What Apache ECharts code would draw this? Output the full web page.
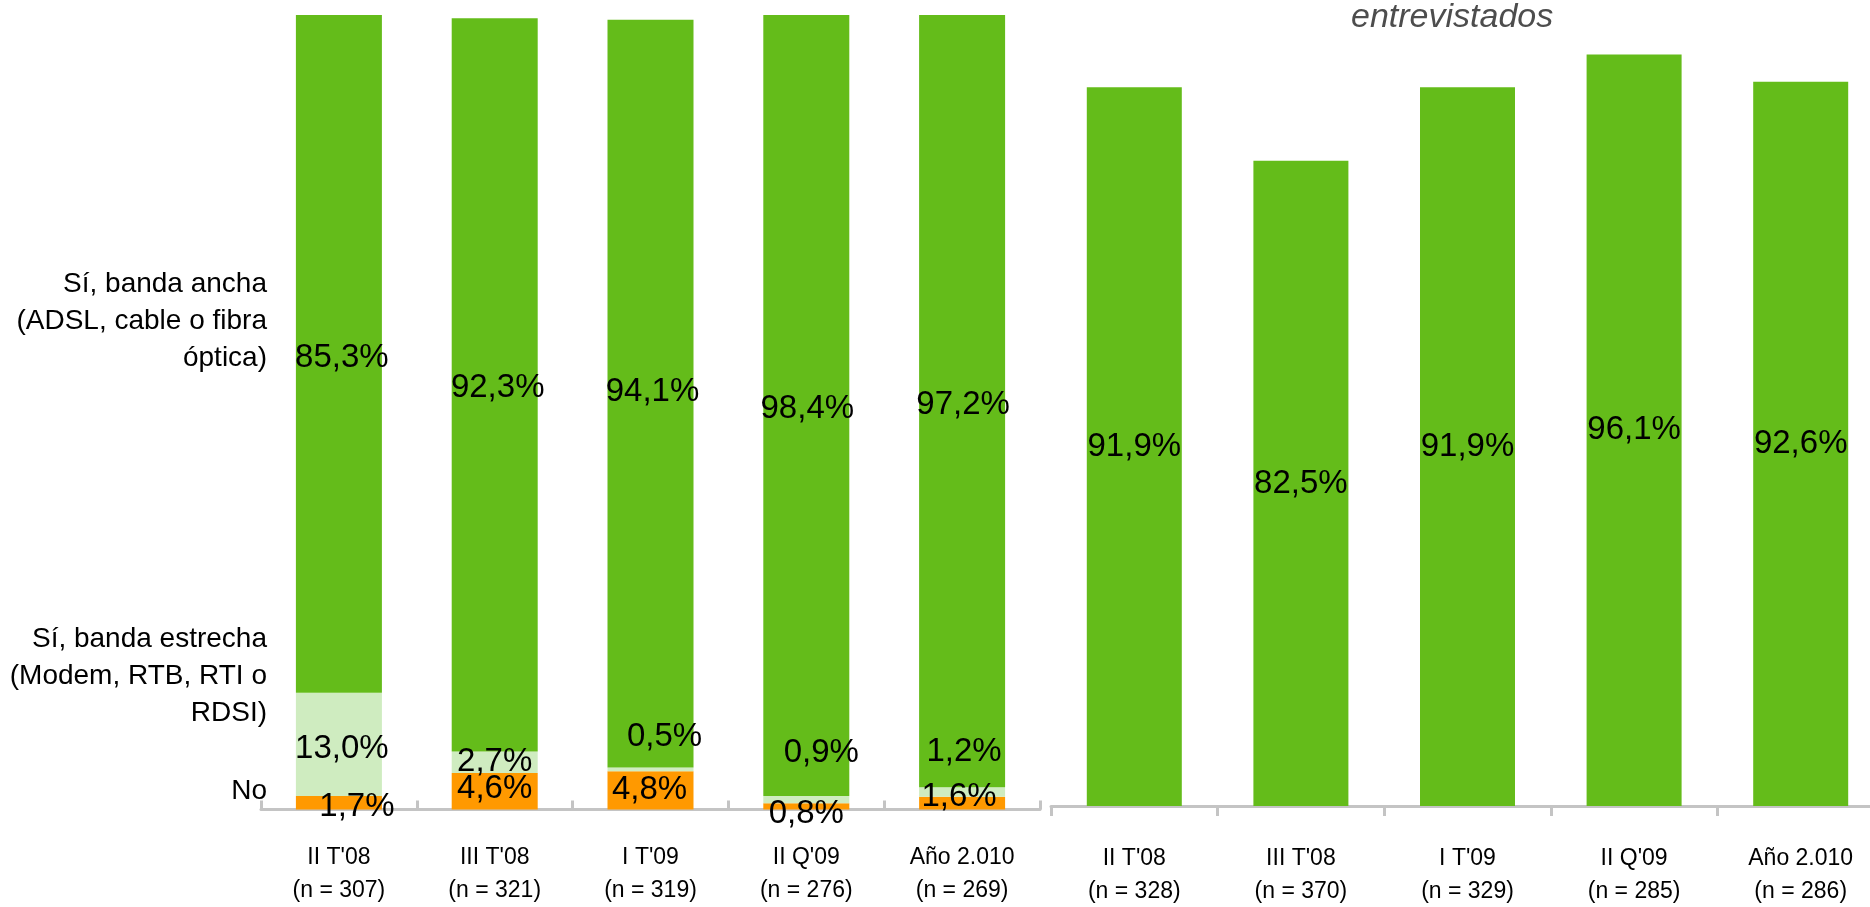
<!DOCTYPE html>
<html>
<head>
<meta charset="utf-8">
<script src="https://cdn.jsdelivr.net/npm/echarts@6/dist/echarts.min.js"></script>
<style>
  html, body { margin: 0; padding: 0; background: #ffffff; }
  #chart { width: 1870px; height: 907px; }
</style>
</head>
<body>
<div id="chart"></div>
<script>
// ---- Data ----
const categoriesLeft = ["II T'08\n(n = 307)", "III T'08\n(n = 321)", "I T'09\n(n = 319)", "II Q'09\n(n = 276)", "Año 2.010\n(n = 269)"];
const categoriesRight = ["II T'08\n(n = 328)", "III T'08\n(n = 370)", "I T'09\n(n = 329)", "II Q'09\n(n = 285)", "Año 2.010\n(n = 286)"];
const bandaAncha = [85.3, 92.3, 94.1, 98.4, 97.2];
const bandaEstrecha = [13.0, 2.7, 0.5, 0.9, 1.2];
const noConexion = [1.7, 4.6, 4.8, 0.8, 1.6];
const rightValues = [91.9, 82.5, 91.9, 96.1, 92.6];
const legendLabels = ["Sí, banda ancha\n(ADSL, cable o fibra\nóptica)", "Sí, banda estrecha\n(Modem, RTB, RTI o\nRDSI)", "No"];
const headerText = "entrevistados";

// label nudges (style only)
const anchaLabelOffsets = [[3, 4], [3, 3], [2, -2], [1, 3], [1, 4]];
const estrechaLabelOffsets = [[3, 5], [0, 0], [14, -32], [15, -47], [2, -40]];
const noLabelOffsets = [[18, 4], [0, -2], [-1, -1], [0, 8], [-3, -6]];

const FONT = 'Liberation Sans, Arial, sans-serif';
const GREEN = '#64BC1A';
const LIGHT = '#CFECC0';
const ORANGE = '#FF9900';
const AXIS = '#C4C4C4';

const fmt = v => v.toFixed(1).replace('.', ',') + '%';
const labelBase = { show: true, position: 'inside', color: '#000', fontFamily: FONT, fontSize: 33, formatter: p => fmt(p.value) };

function withOffsets(values, offsets) {
  return values.map((v, i) => ({ value: v, label: { offset: offsets[i] } }));
}

const chart = echarts.init(document.getElementById('chart'), null, { renderer: 'canvas' });

const legendStyle = { align: 'right', verticalAlign: 'middle', fontFamily: FONT, fontSize: 28, lineHeight: 37, fill: '#000' };

const option = {
  animation: false,
  backgroundColor: '#ffffff',
  grid: [
    { left: 261, width: 779, top: 15, bottom: 97.5, outerBoundsMode: 'none', containLabel: false },
    { left: 1051, width: 833, top: 24, bottom: 101, outerBoundsMode: 'none', containLabel: false }
  ],
  xAxis: [
    {
      gridIndex: 0, type: 'category', data: categoriesLeft,
      axisLine: { lineStyle: { color: AXIS, width: 3 } },
      axisTick: { show: true, inside: true, length: 9, lineStyle: { color: AXIS, width: 3 } },
      axisLabel: { color: '#000', fontFamily: FONT, fontSize: 23, lineHeight: 33, margin: 32, interval: 0 }
    },
    {
      gridIndex: 1, type: 'category', data: categoriesRight,
      axisLine: { lineStyle: { color: AXIS, width: 3 } },
      axisTick: { show: true, inside: false, length: 10, lineStyle: { color: AXIS, width: 3 } },
      axisLabel: { color: '#000', fontFamily: FONT, fontSize: 23, lineHeight: 33, margin: 36, interval: 0, hideOverlap: false }
    }
  ],
  yAxis: [
    { gridIndex: 0, type: 'value', min: 0, max: 100, show: false },
    { gridIndex: 1, type: 'value', min: 0, max: 100, show: false }
  ],
  series: [
    {
      name: 'No', type: 'bar', stack: 'left', xAxisIndex: 0, yAxisIndex: 0,
      barWidth: 86, itemStyle: { color: ORANGE },
      label: labelBase, data: withOffsets(noConexion, noLabelOffsets)
    },
    {
      name: 'Sí, banda estrecha', type: 'bar', stack: 'left', xAxisIndex: 0, yAxisIndex: 0,
      barWidth: 86, itemStyle: { color: LIGHT },
      label: labelBase, data: withOffsets(bandaEstrecha, estrechaLabelOffsets)
    },
    {
      name: 'Sí, banda ancha', type: 'bar', stack: 'left', xAxisIndex: 0, yAxisIndex: 0,
      barWidth: 86, itemStyle: { color: GREEN },
      label: labelBase, data: withOffsets(bandaAncha, anchaLabelOffsets)
    },
    {
      name: 'Total', type: 'bar', xAxisIndex: 1, yAxisIndex: 1,
      barWidth: 95, itemStyle: { color: GREEN },
      label: labelBase, data: rightValues
    }
  ],
  graphic: [
    { type: 'text', x: 267, y: 321, style: Object.assign({ text: legendLabels[0] }, legendStyle) },
    { type: 'text', x: 267, y: 676, style: Object.assign({ text: legendLabels[1] }, legendStyle) },
    { type: 'text', x: 267, y: 791, style: Object.assign({ text: legendLabels[2] }, legendStyle) },
    { type: 'text', x: 1351, y: 18, style: { text: headerText, verticalAlign: 'middle', fontFamily: FONT, fontStyle: 'italic', fontSize: 34, fill: '#4d4d4d' } }
  ]
};

chart.setOption(option);
</script>
</body>
</html>
